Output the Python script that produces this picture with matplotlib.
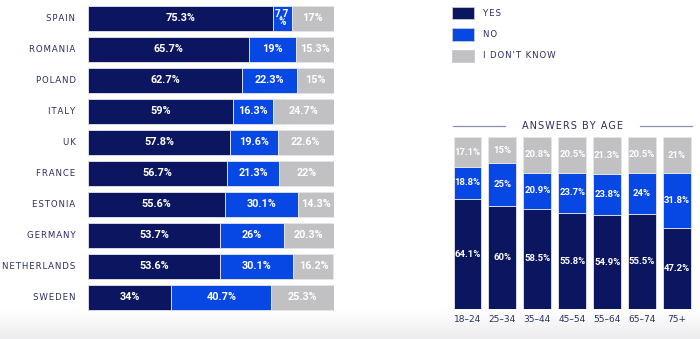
import matplotlib
matplotlib.use("Agg")
import matplotlib.pyplot as plt
import numpy as np
from matplotlib.patches import Rectangle
from matplotlib.lines import Line2D
from matplotlib.colors import LinearSegmentedColormap

# ---- data ----
countries = ["SPAIN", "ROMANIA", "POLAND", "ITALY", "UK", "FRANCE", "ESTONIA",
             "GERMANY", "NETHERLANDS", "SWEDEN"]
yes_c = [75.3, 65.7, 62.7, 59, 57.8, 56.7, 55.6, 53.7, 53.6, 34]
no_c = [7.7, 19, 22.3, 16.3, 19.6, 21.3, 30.1, 26, 30.1, 40.7]
idk_c = [17, 15.3, 15, 24.7, 22.6, 22, 14.3, 20.3, 16.2, 25.3]

ages = ["18–24", "25–34", "35–44", "45–54", "55–64", "65–74", "75+"]
yes_a = [64.1, 60, 58.5, 55.8, 54.9, 55.5, 47.2]
no_a = [18.8, 25, 20.9, 23.7, 23.8, 24, 31.8]
idk_a = [17.1, 15, 20.8, 20.5, 21.3, 20.5, 21]

legend_labels = ["YES", "NO", "I DON'T KNOW"]
title_age = "ANSWERS BY AGE"

NAVY = "#0c1660"
BLUE = "#0747e3"
GREY = "#c1c1c3"
TXT = "#2b2f63"
colors = [NAVY, BLUE, GREY]
VALFONT = ["Roboto", "DejaVu Sans"]

W, H = 700, 339
fig = plt.figure(figsize=(W / 100, H / 100), dpi=100)
fig.patch.set_facecolor("white")

def fx(x): return x / W
def fy(y): return 1 - y / H

def spaced(s):
    return "\u200a".join(list(s))

def fmt(v):
    return ("%g" % v) + "%"

# bottom gradient
gax = fig.add_axes([0, 0, 1, 30 / H], zorder=-10)
grad = np.linspace(0, 1, 64).reshape(-1, 1)
cm = LinearSegmentedColormap.from_list("g", ["#ececee", "#ffffff"])
gax.imshow(grad, aspect="auto", cmap=cm, origin="lower", extent=[0, 1, 0, 1])
gax.axis("off")

# ---- left chart ----
ax = fig.add_axes([fx(88), fy(312.7), 246 / W, 310 / H])
ypos = np.arange(len(countries))
left = np.zeros(len(countries))
for vals, c in zip([yes_c, no_c, idk_c], colors):
    vals = np.array(vals)
    ax.barh(ypos, vals, left=left, height=0.8, color=c, edgecolor="#e6e6ea", linewidth=0.6)
    for yi, (l, v) in enumerate(zip(left, vals)):
        if v < 10:
            txt = ("%g" % v) + "\n%"
            ax.text(l + v / 2, yi, txt, ha="center", va="center", color="white",
                    fontsize=7.2, fontweight="bold", linespacing=0.8, family=VALFONT)
        else:
            ax.text(l + v / 2, yi, fmt(v), ha="center", va="center", color="white",
                    fontsize=7.8, fontweight="bold", family=VALFONT)
    left = left + vals
ax.set_xlim(0, 100.2)
ax.set_ylim(9.5, -0.5)
ax.axis("off")
for yi, name in enumerate(countries):
    yc = 18.2 + 31 * yi
    fig.text(fx(75.5), fy(yc), spaced(name), ha="right", va="center",
             fontsize=6.2, color=TXT)

# ---- right chart ----
ax2 = fig.add_axes([fx(450.05), fy(309.3), 244.4 / W, 172 / H])
xpos = np.arange(len(ages))
bottom = np.zeros(len(ages))
for vals, c in zip([yes_a, no_a, idk_a], colors):
    vals = np.array(vals)
    ax2.bar(xpos, vals, bottom=bottom, width=0.8, color=c, edgecolor="#e6e6ea", linewidth=0.6)
    for xi, (b, v) in enumerate(zip(bottom, vals)):
        ax2.text(xi, b + v / 2, fmt(v), ha="center", va="center", color="white",
                 fontsize=6.8, fontweight="bold", family=VALFONT)
    bottom = bottom + vals
ax2.set_xlim(-0.5, 6.5)
ax2.set_ylim(0, 100)
ax2.axis("off")
for xi, a in enumerate(ages):
    xc = 467.5 + 34.9 * xi
    fig.text(fx(xc), fy(319.5), a, ha="center", va="center", fontsize=6.5, color=TXT)

fig.text(fx(572.5), fy(125.7), spaced(title_age), ha="center", va="center",
         fontsize=7.0, color=TXT)
for x0, x1 in [(452.7, 505), (640, 691.7)]:
    fig.add_artist(Line2D([fx(x0), fx(x1)], [fy(125.7), fy(125.7)], color="#8e91ad",
                          linewidth=0.9, transform=fig.transFigure))

# ---- legend ----
for i, (lab, c) in enumerate(zip(legend_labels, colors)):
    yc = 13 + 21.5 * i
    fig.add_artist(Rectangle((fx(452.3), fy(yc + 6.3)), 22 / W, 12.6 / H, facecolor=c,
                             edgecolor="#c8c8d0", linewidth=0.6, transform=fig.transFigure))
    fig.text(fx(483), fy(yc), spaced(lab), ha="left", va="center", fontsize=6.2, color=TXT)

fig.savefig("out.png", dpi=100)
